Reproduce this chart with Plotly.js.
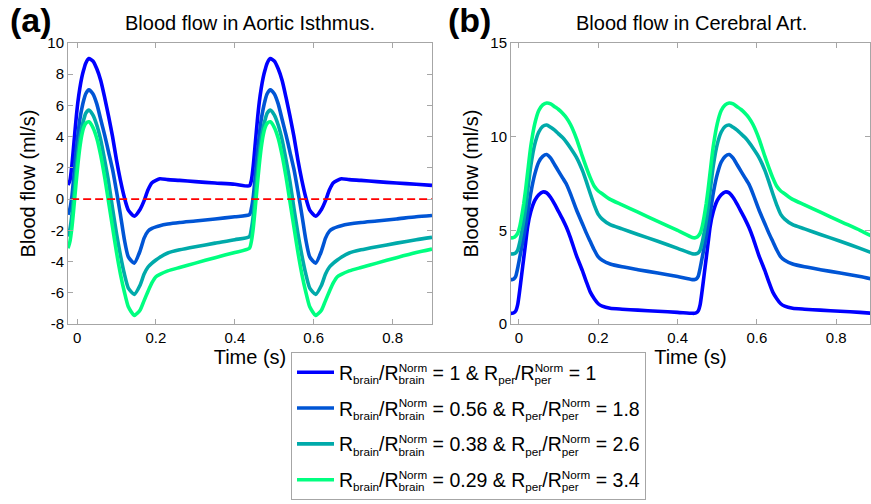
<!DOCTYPE html>
<html>
<head>
<meta charset="utf-8">
<script src="https://cdn.plot.ly/plotly-3.0.1.min.js"></script>
<style>html,body{margin:0;padding:0;background:#fff;} #chart{width:871px;height:504px;}</style>
</head>
<body>
<div id="chart"></div>
<script>
// ---- data ----
const time = [-0.023, -0.018, -0.013, -0.008, -0.003, 0.002, 0.007, 0.012, 0.017, 0.022, 0.03, 0.04, 0.05, 0.06, 0.07, 0.08, 0.09, 0.10, 0.11, 0.12, 0.13, 0.145, 0.16, 0.17, 0.18, 0.19, 0.20, 0.21, 0.23, 0.26, 0.30, 0.35, 0.40, 0.437,
  0.442, 0.447, 0.452, 0.457, 0.462, 0.467, 0.472, 0.477, 0.482, 0.49, 0.50, 0.51, 0.52, 0.53, 0.54, 0.55, 0.56, 0.57, 0.58, 0.59, 0.605, 0.62, 0.63, 0.64, 0.65, 0.66, 0.67, 0.69, 0.72, 0.76, 0.81, 0.86, 0.9];

// Aortic isthmus flow (ml/s)
const aortic1 = [0.9, 1.2, 2.2, 3.6, 5.0, 6.2, 7.1, 7.8, 8.3, 8.7, 9.0, 8.85, 8.35, 7.6, 6.5, 5.3, 4.0, 2.5, 1.2, 0.1, -0.7, -1.1, -0.65, -0.1, 0.6, 1.05, 1.2, 1.3, 1.25, 1.2, 1.12, 1.03, 0.95, 0.85,
  1.2, 2.2, 3.6, 5.0, 6.2, 7.1, 7.8, 8.3, 8.7, 9.0, 8.85, 8.35, 7.6, 6.5, 5.3, 4.0, 2.5, 1.2, 0.1, -0.7, -1.1, -0.65, -0.1, 0.6, 1.05, 1.2, 1.3, 1.25, 1.2, 1.12, 1.03, 0.95, 0.88];
const aortic2 = [-1.0, -0.6, 0.2, 1.5, 2.9, 4.1, 5.1, 5.8, 6.35, 6.75, 7.0, 6.75, 6.1, 5.1, 4.1, 3.0, 1.9, 0.5, -1.0, -2.6, -3.7, -4.1, -3.3, -2.5, -2.05, -1.88, -1.78, -1.7, -1.6, -1.5, -1.4, -1.27, -1.13, -1.0,
  -0.6, 0.2, 1.5, 2.9, 4.1, 5.1, 5.8, 6.35, 6.75, 7.0, 6.75, 6.1, 5.1, 4.1, 3.0, 1.9, 0.5, -1.0, -2.6, -3.7, -4.1, -3.3, -2.5, -2.05, -1.88, -1.78, -1.7, -1.6, -1.5, -1.4, -1.27, -1.13, -1.05];
const aortic3 = [-2.4, -1.9, -1.0, 0.3, 1.7, 2.9, 3.9, 4.6, 5.1, 5.5, 5.7, 5.4, 4.75, 3.8, 2.5, 1.1, -0.6, -2.2, -3.6, -4.8, -5.7, -6.1, -5.5, -4.8, -4.35, -4.1, -3.9, -3.72, -3.45, -3.25, -3.05, -2.82, -2.6, -2.4,
  -1.9, -1.0, 0.3, 1.7, 2.9, 3.9, 4.6, 5.1, 5.5, 5.7, 5.4, 4.75, 3.8, 2.5, 1.1, -0.6, -2.2, -3.6, -4.8, -5.7, -6.1, -5.5, -4.8, -4.35, -4.1, -3.9, -3.72, -3.45, -3.25, -3.05, -2.82, -2.6, -2.45];
const aortic4 = [-3.15, -2.7, -1.8, -0.5, 0.9, 2.2, 3.3, 4.1, 4.6, 4.85, 4.95, 4.6, 3.9, 2.8, 1.4, -0.2, -1.8, -3.4, -4.8, -5.95, -6.9, -7.45, -7.1, -6.5, -5.9, -5.35, -4.97, -4.82, -4.6, -4.38, -4.1, -3.75, -3.42, -3.15,
  -2.7, -1.8, -0.5, 0.9, 2.2, 3.3, 4.1, 4.6, 4.85, 4.95, 4.6, 3.9, 2.8, 1.4, -0.2, -1.8, -3.4, -4.8, -5.95, -6.9, -7.45, -7.1, -6.5, -5.9, -5.35, -4.97, -4.82, -4.6, -4.38, -4.1, -3.75, -3.42, -3.2];

// Cerebral artery flow (ml/s)
const cerebral1 = [0.57, 0.57, 0.6, 0.7, 1.05, 1.8, 2.65, 3.5, 4.35, 5.2, 6.0, 6.6, 6.9, 7.05, 7.0, 6.75, 6.4, 6.0, 5.6, 5.15, 4.6, 3.65, 2.85, 2.25, 1.7, 1.35, 1.08, 0.95, 0.84, 0.79, 0.74, 0.68, 0.62, 0.57,
  0.57, 0.6, 0.7, 1.05, 1.8, 2.65, 3.5, 4.35, 5.2, 6.0, 6.6, 6.9, 7.05, 7.0, 6.75, 6.4, 6.0, 5.6, 5.15, 4.6, 3.65, 2.85, 2.25, 1.7, 1.35, 1.08, 0.95, 0.84, 0.79, 0.74, 0.68, 0.62, 0.56];
const cerebral2 = [2.37, 2.37, 2.4, 2.55, 3.0, 3.55, 4.1, 4.65, 5.25, 5.9, 7.0, 8.0, 8.65, 8.95, 9.05, 8.85, 8.5, 8.15, 7.8, 7.45, 6.95, 6.1, 5.35, 4.85, 4.4, 3.95, 3.58, 3.4, 3.2, 3.05, 2.9, 2.72, 2.53, 2.37,
  2.37, 2.4, 2.55, 3.0, 3.55, 4.1, 4.65, 5.25, 5.9, 7.0, 8.0, 8.65, 8.95, 9.05, 8.85, 8.5, 8.15, 7.8, 7.45, 6.95, 6.1, 5.35, 4.85, 4.4, 3.95, 3.58, 3.4, 3.2, 3.05, 2.9, 2.72, 2.53, 2.35];
const cerebral3 = [3.75, 3.74, 3.75, 3.8, 3.95, 4.35, 4.9, 5.5, 6.2, 7.1, 8.45, 9.6, 10.25, 10.55, 10.62, 10.5, 10.35, 10.15, 9.95, 9.7, 9.4, 8.9, 8.2, 7.6, 6.95, 6.35, 5.85, 5.6, 5.3, 5.08, 4.78, 4.42, 4.04, 3.75,
  3.74, 3.75, 3.8, 3.95, 4.35, 4.9, 5.5, 6.2, 7.1, 8.45, 9.6, 10.25, 10.55, 10.62, 10.5, 10.35, 10.15, 9.95, 9.7, 9.4, 8.9, 8.2, 7.6, 6.95, 6.35, 5.85, 5.6, 5.3, 5.08, 4.78, 4.42, 4.04, 3.72];
const cerebral4 = [4.62, 4.6, 4.62, 4.7, 4.85, 5.2, 5.75, 6.4, 7.2, 8.1, 9.5, 10.7, 11.4, 11.7, 11.8, 11.75, 11.6, 11.45, 11.25, 11.0, 10.65, 9.9, 8.95, 8.35, 7.8, 7.35, 7.1, 6.95, 6.65, 6.36, 5.97, 5.48, 5.0, 4.62,
  4.6, 4.62, 4.7, 4.85, 5.2, 5.75, 6.4, 7.2, 8.1, 9.5, 10.7, 11.4, 11.7, 11.8, 11.75, 11.6, 11.45, 11.25, 11.0, 10.65, 9.9, 8.95, 8.35, 7.8, 7.35, 7.1, 6.95, 6.65, 6.36, 5.97, 5.48, 5.0, 4.58];

// zero reference line in panel (a)
const zeroLineTime = [-0.015, 0.9];
const zeroLineFlow = [0, 0];

// legend labels: R_brain/R_brain^Norm and R_per/R_per^Norm ratios
const brainRatios = ['1', '0.56', '0.38', '0.29'];
const perRatios = ['1', '1.8', '2.6', '3.4'];

// tick labels
const aorticTickVals = [10, 8, 6, 4, 2, 0, -2, -4, -6, -8];
const aorticTickText = ['10', '8', '6', '4', '2', '0', '-2', '-4', '-6', '-8'];
const cerebralTickVals = [0, 5, 10, 15];
const cerebralTickText = ['0', '5', '10', '15'];
const timeTickVals = [0, 0.2, 0.4, 0.6, 0.8];
const timeTickText = ['0', '0.2', '0.4', '0.6', '0.8'];

const panelTitles = ['Blood flow in Aortic Isthmus.', 'Blood flow in Cerebral Art.'];
const panelLetters = ['(a)', '(b)'];

// ---- styling ----
const colors = ['rgb(0,0,255)', 'rgb(0,85,213)', 'rgb(0,170,170)', 'rgb(0,255,128)'];
const FONT = 'Liberation Sans, Arial, Helvetica, sans-serif';
const SMALL = 11.7;   // px size of the sub/superscripts in the legend

function small(s) { return '<span style="font-size:' + SMALL + 'px">' + s + '</span>'; }
function stacked(sub, back) {
  // subscript, then step back over it and put "Norm" above it
  return 'R<sub>' + small(sub) + '</sub><span style="letter-spacing:' + back + 'px"> </span><sup>' + small('Norm') + '</sup>';
}
const legendNames = brainRatios.map((b, i) =>
  'R<sub>' + small('brain') + '</sub>/' + stacked('brain', -31.4) + ' = ' + b +
  ' &amp; R<sub>' + small('per') + '</sub>/' + stacked('per', -22.3) + ' = ' + perRatios[i]);

const aorticSeries = [aortic1, aortic2, aortic3, aortic4];
const cerebralSeries = [cerebral1, cerebral2, cerebral3, cerebral4];

const traces = [];
aorticSeries.forEach((ys, i) => {
  traces.push({x: time, y: ys, xaxis: 'x', yaxis: 'y', type: 'scatter', mode: 'lines',
    line: {color: colors[i], width: 3.6, shape: 'spline', smoothing: 0.6},
    name: legendNames[i], legendgroup: 'g' + i, showlegend: true});
});
cerebralSeries.forEach((ys, i) => {
  traces.push({x: time, y: ys, xaxis: 'x2', yaxis: 'y2', type: 'scatter', mode: 'lines',
    line: {color: colors[i], width: 3.6, shape: 'spline', smoothing: 0.6},
    name: legendNames[i], legendgroup: 'g' + i, showlegend: false});
});
traces.push({x: zeroLineTime, y: zeroLineFlow, xaxis: 'x', yaxis: 'y', type: 'scatter', mode: 'lines',
  line: {color: 'rgb(255,0,0)', width: 1.6, dash: '8px,4px'}, showlegend: false, hoverinfo: 'skip'});

const W = 871, H = 504;
function axisBase() {
  return {
    showline: true, linecolor: '#a6a6a6', linewidth: 1, mirror: 'ticks',
    ticks: 'inside', ticklen: 5, tickwidth: 1, tickcolor: '#a6a6a6',
    showgrid: false, zeroline: false,
    tickfont: {family: FONT, size: 15, color: '#000'},
    title: {font: {family: FONT, size: 20, color: '#000'}}
  };
}
const xaxis = Object.assign(axisBase(), {domain: [68 / W, 432 / W], range: [-0.023, 0.9], anchor: 'y',
  tickmode: 'array', tickvals: timeTickVals, ticktext: timeTickText});
xaxis.title.text = 'Time (s)'; xaxis.title.standoff = 4;
const yaxis = Object.assign(axisBase(), {domain: [(H - 324) / H, (H - 43) / H], range: [-8, 10], anchor: 'x',
  tickmode: 'array', tickvals: aorticTickVals, ticktext: aorticTickText});
yaxis.title.text = 'Blood flow (ml/s)'; yaxis.title.standoff = 6;
const xaxis2 = Object.assign(axisBase(), {domain: [511 / W, 870 / W], range: [-0.02, 0.885], anchor: 'y2',
  tickmode: 'array', tickvals: timeTickVals, ticktext: timeTickText});
xaxis2.title.text = 'Time (s)'; xaxis2.title.standoff = 4;
const yaxis2 = Object.assign(axisBase(), {domain: [(H - 324) / H, (H - 43) / H], range: [0, 15], anchor: 'x2',
  tickmode: 'array', tickvals: cerebralTickVals, ticktext: cerebralTickText});
yaxis2.title.text = 'Blood flow (ml/s)'; yaxis2.title.standoff = 6;

const layout = {
  width: W, height: H,
  margin: {l: 0, r: 0, t: 0, b: 0},
  paper_bgcolor: '#fff', plot_bgcolor: '#fff',
  font: {family: FONT, color: '#000'},
  xaxis: xaxis, yaxis: yaxis, xaxis2: xaxis2, yaxis2: yaxis2,
  showlegend: true,
  legend: {x: 291 / W, y: (H - 352) / H, xanchor: 'left', yanchor: 'top',
    bgcolor: '#fff', bordercolor: '#a6a6a6', borderwidth: 1, itemwidth: 37,
    font: {family: FONT, size: 19.5, color: '#000'}, tracegroupgap: 7.5, traceorder: 'grouped'},
  annotations: [
    {text: '<b>' + panelLetters[0] + '</b>', xref: 'paper', yref: 'paper', x: 8 / W, y: 1 - 20 / H,
      xanchor: 'left', yanchor: 'middle', showarrow: false, font: {family: FONT, size: 34, color: '#000'}},
    {text: '<b>' + panelLetters[1] + '</b>', xref: 'paper', yref: 'paper', x: 446 / W, y: 1 - 20 / H,
      xanchor: 'left', yanchor: 'middle', showarrow: false, font: {family: FONT, size: 34, color: '#000'}},
    {text: panelTitles[0], xref: 'paper', yref: 'paper', x: 250 / W, y: 1 - 23 / H,
      xanchor: 'center', yanchor: 'middle', showarrow: false, font: {family: FONT, size: 20, color: '#000'}},
    {text: panelTitles[1], xref: 'paper', yref: 'paper', x: 691 / W, y: 1 - 23 / H,
      xanchor: 'center', yanchor: 'middle', showarrow: false, font: {family: FONT, size: 20, color: '#000'}}
  ]
};

Plotly.newPlot('chart', traces, layout, {staticPlot: true, displayModeBar: false});
</script>
</body>
</html>
